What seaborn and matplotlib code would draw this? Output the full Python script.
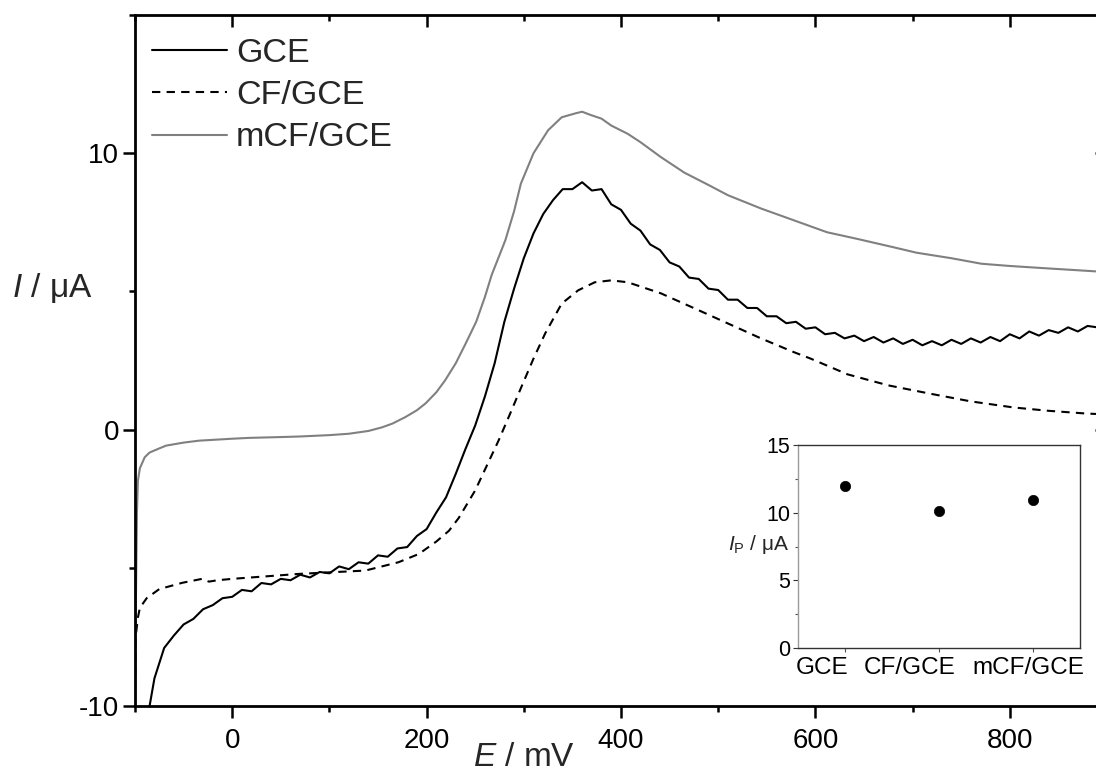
import numpy as np
import pandas as pd
import matplotlib
matplotlib.use("Agg")
import matplotlib.pyplot as plt
from matplotlib.ticker import MultipleLocator
import seaborn as sns

# ---------------- data ----------------
gce_E = [-90, -80, -70, -60, -50, -40, -30, -20, -10, 0, 10, 20, 30, 40, 50, 60, 70, 80, 90,
         100, 110, 120, 130, 140, 150, 160, 170, 180, 190, 200, 210, 220, 230, 240, 250, 260,
         270, 280, 290, 300, 310, 320, 330, 340, 350, 360, 370, 380, 390, 400, 410, 420, 430,
         440, 450, 460, 470, 480, 490, 500, 510, 520, 530, 540, 550, 560, 570, 580, 590, 600,
         610, 620, 630, 640, 650, 660, 670, 680, 690, 700, 710, 720, 730, 740, 750, 760, 770,
         780, 790, 800, 810, 820, 830, 840, 850, 860, 870, 880, 890]
gce_I = [-11.0, -9.0, -7.9, -7.45, -7.05, -6.85, -6.5, -6.35, -6.1, -6.05, -5.8, -5.85, -5.55,
         -5.6, -5.4, -5.45, -5.25, -5.35, -5.15, -5.2, -4.95, -5.05, -4.8, -4.85, -4.55, -4.6,
         -4.3, -4.25, -3.85, -3.6, -3.0, -2.45, -1.6, -0.7, 0.15, 1.2, 2.4, 3.9, 5.1, 6.2, 7.1,
         7.8, 8.3, 8.7, 8.7, 8.95, 8.65, 8.7, 8.15, 7.95, 7.45, 7.2, 6.7, 6.5, 6.05, 5.9, 5.5,
         5.45, 5.1, 5.05, 4.7, 4.7, 4.4, 4.4, 4.1, 4.1, 3.85, 3.9, 3.65, 3.7, 3.45, 3.5, 3.3,
         3.4, 3.2, 3.35, 3.15, 3.3, 3.1, 3.25, 3.05, 3.2, 3.05, 3.25, 3.1, 3.3, 3.15, 3.35, 3.2,
         3.45, 3.3, 3.55, 3.4, 3.6, 3.5, 3.7, 3.55, 3.75, 3.7]

cf_E = [-100.5, -99, -97, -95, -88, -75, -51, -31, -24, -15, 0, 69, 137, 171, 192, 210, 223,
        233, 250, 262, 274, 285, 297, 310, 322, 339, 356, 373, 390, 407, 441, 476, 510, 544,
        578, 595, 633, 675, 718, 760, 804, 840, 879, 900]
cf_I = [-10.5, -7.4, -6.8, -6.45, -6.1, -5.77, -5.54, -5.4, -5.5, -5.45, -5.4, -5.22, -5.1,
        -4.8, -4.5, -4.05, -3.66, -3.2, -2.2, -1.3, -0.4, 0.5, 1.5, 2.57, 3.48, 4.56, 5.04,
        5.33, 5.4, 5.33, 4.93, 4.38, 3.84, 3.3, 2.8, 2.57, 2.0, 1.6, 1.3, 1.02, 0.8, 0.68,
        0.58, 0.55]

mcf_E = [-100, -99, -98, -97, -95, -93, -90, -85, -75, -68, -50, -34, 0, 17, 50, 69, 100, 120,
         140, 154, 165, 178, 190, 199, 210, 219, 230, 240, 251, 260, 267, 281, 290, 297, 310,
         325, 339, 354, 360, 369, 380, 390, 407, 420, 441, 465, 490, 510, 544, 578, 612, 643,
         680, 704, 740, 771, 800, 840, 886, 900]
mcf_I = [-11.0, -6.0, -3.0, -1.85, -1.4, -1.24, -1.0, -0.83, -0.68, -0.58, -0.47, -0.4, -0.33,
         -0.3, -0.27, -0.25, -0.2, -0.15, -0.05, 0.08, 0.22, 0.45, 0.7, 0.95, 1.35, 1.78, 2.4,
         3.1, 3.9, 4.8, 5.6, 6.85, 7.9, 8.9, 10.0, 10.83, 11.3, 11.45, 11.5, 11.38, 11.25,
         11.0, 10.7, 10.4, 9.86, 9.3, 8.85, 8.48, 8.0, 7.57, 7.14, 6.9, 6.6, 6.4, 6.2, 6.0,
         5.92, 5.83, 5.73, 5.7]

inset_cats = ["GCE", "CF/GCE", "mCF/GCE"]
inset_ip = [11.95, 10.15, 10.9]

xticks_major = [0, 200, 400, 600, 800]
yticks_major = [-10, 0, 10]

# ---------------- style ----------------
sns.set_style("ticks")
plt.rcParams["font.family"] = ["Liberation Sans", "DejaVu Sans"]
plt.rcParams["mathtext.fontset"] = "custom"
plt.rcParams["mathtext.rm"] = "Liberation Sans"
plt.rcParams["mathtext.it"] = "Liberation Sans:italic"
plt.rcParams["mathtext.bf"] = "Liberation Sans:bold"
plt.rcParams["axes.unicode_minus"] = False

W, H = 1096, 772
fig = plt.figure(figsize=(W / 100, H / 100), dpi=100)

# main axes: left spine at px 135, bottom at 706, top at 15, right spine just beyond the image
L, R, T, B = 135, 1107, 15, 706
ax = fig.add_axes([L / W, 1 - B / H, (R - L) / W, (B - T) / H])

df_gce = pd.DataFrame({"E": gce_E, "I": gce_I})
df_cf = pd.DataFrame({"E": cf_E, "I": cf_I})
df_mcf = pd.DataFrame({"E": mcf_E, "I": mcf_I})

sns.lineplot(data=df_gce, x="E", y="I", ax=ax, color="black", linewidth=1.5,
             sort=False, estimator=None, label="GCE")
sns.lineplot(data=df_cf, x="E", y="I", ax=ax, color="black", linewidth=1.5,
             sort=False, estimator=None, label="CF/GCE")
ax.lines[-1].set_linestyle((0, (4, 3)))
sns.lineplot(data=df_mcf, x="E", y="I", ax=ax, color="#808080", linewidth=1.5,
             sort=False, estimator=None, label="mCF/GCE")

ax.set_xlim(-100, 900)
ax.set_ylim(-10, 15)
ax.set_xticks(xticks_major)
ax.set_yticks(yticks_major)
ax.xaxis.set_minor_locator(MultipleLocator(100))
ax.yaxis.set_minor_locator(MultipleLocator(5))

for s in ax.spines.values():
    s.set_visible(True)
    s.set_linewidth(2.0)
    s.set_color("black")

ax.tick_params(axis="both", which="major", direction="out", length=8.5, width=1.8,
               labelsize=20, colors="black")
ax.tick_params(axis="x", which="major", pad=7)
ax.tick_params(axis="y", which="major", pad=3)
ax.tick_params(axis="both", which="minor", direction="out", length=4.5, width=1.8,
               colors="black")
ax.tick_params(top=True, right=True, which="both")
# top/right ticks inward
for t in ax.xaxis.get_major_ticks() + ax.xaxis.get_minor_ticks():
    t.tick2line.set_marker(matplotlib.lines.TICKDOWN)
for t in ax.yaxis.get_major_ticks() + ax.yaxis.get_minor_ticks():
    t.tick2line.set_marker(matplotlib.lines.TICKLEFT)

ax.set_xlabel(r"$E$ / mV", fontsize=24)
ax.xaxis.set_label_coords((524 - L) / (R - L), (B - 757) / (B - T))
ax.xaxis.label.set_va("center")
ax.set_ylabel(r"$I$ / μA", fontsize=24, rotation=0, ha="left", va="center")
ax.yaxis.set_label_coords((12 - L) / (R - L), (B - 288) / (B - T))

leg = ax.legend(loc="upper left", bbox_to_anchor=((152 - L) / (R - L), (B - 38) / (B - T)),
                frameon=False, fontsize=24.5, handlelength=2.2, handletextpad=0.27,
                labelspacing=0.33, borderpad=0, borderaxespad=0)
for h in leg.get_lines():
    h.set_linewidth(1.5)

# ---------------- inset ----------------
iL, iR, iT, iB = 798, 1080, 445, 648
axi = fig.add_axes([iL / W, 1 - iB / H, (iR - iL) / W, (iB - iT) / H])
df_in = pd.DataFrame({"cat": inset_cats, "ip": inset_ip})
sns.scatterplot(data=df_in, x="cat", y="ip", ax=axi, color="black", s=55,
                edgecolor="black", linewidth=0.5, legend=False)
axi.set_xlim(-0.5, 2.5)
axi.set_ylim(0, 15)
axi.set_yticks([0, 5, 10, 15])
axi.yaxis.set_minor_locator(MultipleLocator(2.5))
axi.set_xlabel("")
axi.set_ylabel(r"$I_\mathrm{P}$ / μA", fontsize=15, rotation=0, ha="left", va="center")
axi.yaxis.set_label_coords((728 - iL) / (iR - iL), (iB - 545) / (iB - iT))
for name, s in axi.spines.items():
    s.set_visible(True)
    s.set_linewidth(1.0)
    s.set_color("#333333")
axi.spines["left"].set_color("#9a9a9a")
axi.tick_params(axis="y", which="major", direction="out", length=3.5, width=0.8,
                labelsize=15.5, pad=2, colors="#333333", labelcolor="black")
axi.tick_params(axis="y", which="minor", direction="out", length=2, width=0.8,
                colors="#555555")
axi.tick_params(axis="x", which="major", direction="out", length=3, width=0.8,
                labelbottom=False, colors="#555555")
# category labels as in the reference (slightly left of their ticks)
label_centres_px = [822, 910, 1028]
for name, cx in zip(inset_cats, label_centres_px):
    axi.text((cx - iL) / (iR - iL), (iB - 668) / (iB - iT), name, transform=axi.transAxes,
             ha="center", va="center", fontsize=17.5, color="black")

fig.savefig("out.png", dpi=100)
